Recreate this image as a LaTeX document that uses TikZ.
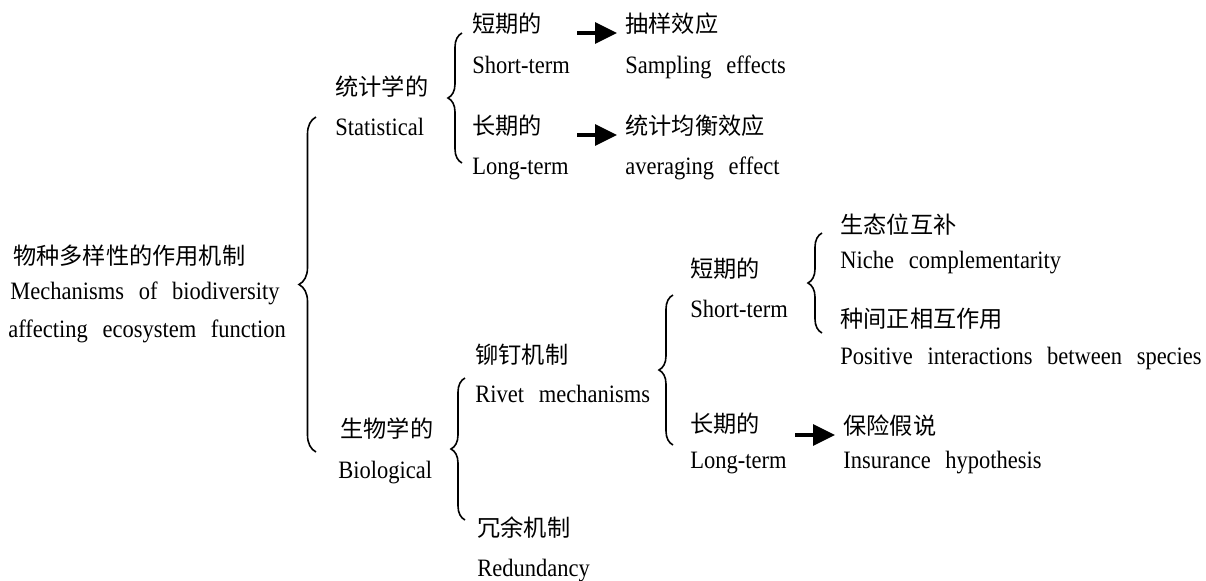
\documentclass[tikz,border=0pt]{standalone}
\usepackage{fontspec}
\setmainfont{Liberation Serif}[FakeStretch=0.9, WordSpace=2.6]
\newfontfamily\cjk{Noto Sans CJK SC}
\usetikzlibrary{arrows.meta,decorations.pathreplacing}

\begin{document}
\begin{tikzpicture}[
    x=0.5pt, y=-0.5pt,
    zh/.style={anchor=base west, inner sep=0pt, font=\cjk\fontsize{11.6}{13}\selectfont},
    en/.style={anchor=base west, inner sep=0pt, font=\fontsize{12.5}{14}\selectfont},
    brc/.style={decorate, decoration={brace, amplitude=7pt}, line width=0.8pt},
    arr/.style={-{Triangle[length=11pt,width=10.5pt]}, line width=1.6pt}
]
\useasboundingbox (0,0) rectangle (1206,580);

% root
\node[zh] (root) at (13,264) {物种多样性的作用机制};
\node[en] (rootA) at (10,299) {Mechanisms of biodiversity};
\node[en] (rootB) at (8,337) {affecting ecosystem function};

% statistical branch
\node[zh] (stat) at (335,95) {统计学的};
\node[en] (statEn) at (335,135) {Statistical};
\node[zh] (sShort) at (472,32) {短期的};
\node[en] (sShortEn) at (472,73) {Short-term};
\node[zh] (sLong) at (472,134) {长期的};
\node[en] (sLongEn) at (472,174) {Long-term};
\node[zh] (sampl) at (625,32) {抽样效应};
\node[en] (samplEn) at (625,73) {Sampling effects};
\node[zh] (aver) at (625,134) {统计均衡效应};
\node[en] (averEn) at (625,174) {averaging effect};

% biological branch
\node[zh] (bio) at (340,437) {生物学的};
\node[en] (bioEn) at (338,478) {Biological};
\node[zh] (rivet) at (475,363) {铆钉机制};
\node[en] (rivetEn) at (475,402) {Rivet mechanisms};
\node[zh] (redund) at (477,536) {冗余机制};
\node[en] (redundEn) at (477,576) {Redundancy};
\node[zh] (bShort) at (690,277) {短期的};
\node[en] (bShortEn) at (690,317) {Short-term};
\node[zh] (bLong) at (690,432) {长期的};
\node[en] (bLongEn) at (690,468) {Long-term};
\node[zh] (niche) at (840,233) {生态位互补};
\node[en] (nicheEn) at (840,268) {Niche complementarity};
\node[zh] (posit) at (840,327) {种间正相互作用};
\node[en] (positEn) at (840,364) {Positive interactions between species};
\node[zh] (insur) at (843,434) {保险假说};
\node[en] (insurEn) at (843,468) {Insurance hypothesis};

% braces
\coordinate (b0t) at (316,117);
\coordinate (b0b) at (316,452);
\coordinate (b1t) at (462,33);
\coordinate (b1b) at (462,163);
\coordinate (b2t) at (465,378);
\coordinate (b2b) at (465,520);
\coordinate (b3t) at (673,295);
\coordinate (b3b) at (673,445);
\coordinate (b4t) at (822,233);
\coordinate (b4b) at (822,333);
\draw[brc, decoration={amplitude=8.5pt}] (b0b) -- (b0t);
\draw[brc] (b1b) -- (b1t);
\draw[brc] (b2b) -- (b2t);
\draw[brc] (b3b) -- (b3t);
\draw[brc] (b4b) -- (b4t);

% arrows
\coordinate (a1s) at (577,33);
\coordinate (a1e) at (617,33);
\coordinate (a2s) at (577,135);
\coordinate (a2e) at (617,135);
\coordinate (a3s) at (795,435);
\coordinate (a3e) at (835,435);
\draw[arr] (a1s) -- (a1e);
\draw[arr] (a2s) -- (a2e);
\draw[arr] (a3s) -- (a3e);
\end{tikzpicture}
\end{document}
